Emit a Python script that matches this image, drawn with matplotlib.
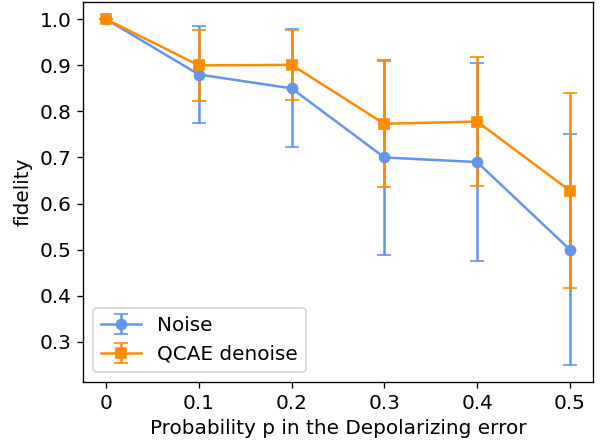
import matplotlib
matplotlib.use("Agg")
import matplotlib.pyplot as plt

p_values = [0, 0.1, 0.2, 0.3, 0.4, 0.5]
x_ticklabels = ["0", "0.1", "0.2", "0.3", "0.4", "0.5"]

noise_fidelity = [1.0, 0.88, 0.85, 0.70, 0.69, 0.50]
noise_err = [0.0, 0.106, 0.128, 0.211, 0.215, 0.25]

qcae_fidelity = [1.0, 0.90, 0.901, 0.773, 0.778, 0.628]
qcae_err = [0.0, 0.077, 0.076, 0.137, 0.14, 0.211]

DPI = 120
fig = plt.figure(figsize=(603 / DPI, 442 / DPI), dpi=DPI)
ax = fig.add_subplot(111)
fig.subplots_adjust(left=83/603, right=593/603, top=1-2/442, bottom=1-382/442)

ax.errorbar(p_values, noise_fidelity, yerr=noise_err, color="cornflowerblue",
            marker="o", capsize=4, label="Noise")
ax.errorbar(p_values, qcae_fidelity, yerr=qcae_err, color="darkorange",
            marker="s", capsize=4, label="QCAE denoise")

ax.set_xticks(p_values)
ax.set_xticklabels(x_ticklabels)
ax.tick_params(labelsize=12)
ax.set_xlabel("Probability p in the Depolarizing error", fontsize=12)
ax.set_ylabel("fidelity", fontsize=12)
ax.legend(loc="lower left", fontsize=12)

fig.savefig("out.png", dpi=DPI)
